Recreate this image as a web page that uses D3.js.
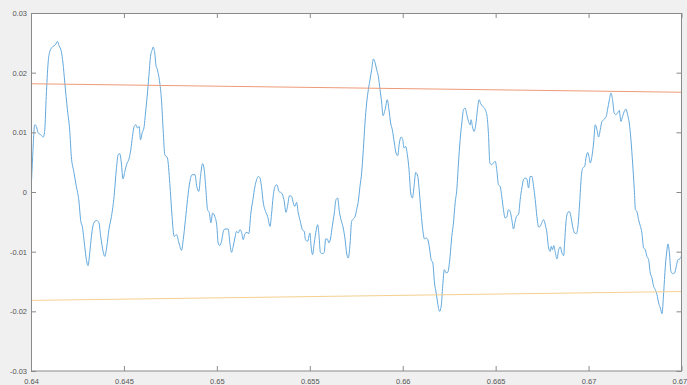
<!DOCTYPE html>
<html>
<head>
<meta charset="utf-8">
<script src="https://cdn.jsdelivr.net/npm/d3@7"></script>
<style>
  html, body { margin: 0; padding: 0; background: #f0f0f0; overflow: hidden; }
  svg { display: block; }
</style>
</head>
<body>
<svg id="chart" width="687" height="385"></svg>
<script>
// Sample times (s) of the measured signal
const timeS = [
  0.64000,0.64009,0.64020,0.64029,0.64038,0.64052,0.64066,0.64074,0.64082,0.64092,
  0.64101,0.64118,0.64131,0.64142,0.64151,0.64163,0.64172,0.64182,0.64196,0.64208,
  0.64217,0.64230,0.64244,0.64257,0.64268,0.64276,0.64289,0.64298,0.64307,0.64316,
  0.64325,0.64338,0.64352,0.64365,0.64375,0.64388,0.64397,0.64408,0.64419,0.64433,
  0.64447,0.64459,0.64469,0.64478,0.64486,0.64495,0.64505,0.64517,0.64526,0.64537,
  0.64546,0.64555,0.64564,0.64573,0.64582,0.64589,0.64598,0.64609,0.64616,0.64625,
  0.64634,0.64643,0.64652,0.64657,0.64666,0.64672,0.64680,0.64693,0.64702,0.64711,
  0.64720,0.64734,0.64747,0.64759,0.64770,0.64783,0.64796,0.64810,0.64819,0.64831,
  0.64842,0.64855,0.64867,0.64882,0.64892,0.64903,0.64912,0.64923,0.64932,0.64941,
  0.64950,0.64959,0.64968,0.64977,0.64989,0.65000,0.65007,0.65016,0.65025,0.65038,
  0.65049,0.65061,0.65070,0.65079,0.65088,0.65097,0.65106,0.65115,0.65124,0.65133,
  0.65142,0.65151,0.65162,0.65172,0.65183,0.65194,0.65205,0.65214,0.65223,0.65232,
  0.65240,0.65250,0.65262,0.65273,0.65286,0.65294,0.65303,0.65313,0.65323,0.65334,
  0.65348,0.65361,0.65372,0.65380,0.65391,0.65402,0.65411,0.65420,0.65429,0.65438,
  0.65449,0.65460,0.65470,0.65477,0.65488,0.65501,0.65507,0.65515,0.65524,0.65535,
  0.65542,0.65550,0.65557,0.65567,0.65578,0.65585,0.65594,0.65603,0.65612,0.65621,
  0.65632,0.65641,0.65650,0.65659,0.65668,0.65680,0.65690,0.65698,0.65707,0.65717,
  0.65725,0.65734,0.65744,0.65752,0.65761,0.65770,0.65779,0.65788,0.65797,0.65806,
  0.65815,0.65824,0.65833,0.65842,0.65851,0.65860,0.65869,0.65878,0.65887,0.65894,
  0.65905,0.65917,0.65926,0.65935,0.65944,0.65955,0.65964,0.65973,0.65982,0.65991,
  0.66000,0.66007,0.66016,0.66025,0.66034,0.66043,0.66052,0.66061,0.66070,0.66081,
  0.66090,0.66099,0.66108,0.66117,0.66126,0.66135,0.66144,0.66153,0.66162,0.66171,
  0.66180,0.66188,0.66198,0.66207,0.66215,0.66224,0.66234,0.66242,0.66255,0.66264,
  0.66273,0.66282,0.66291,0.66300,0.66309,0.66318,0.66327,0.66336,0.66345,0.66354,
  0.66363,0.66368,0.66375,0.66384,0.66393,0.66402,0.66411,0.66420,0.66431,0.66444,
  0.66454,0.66461,0.66469,0.66479,0.66488,0.66498,0.66506,0.66515,0.66524,0.66533,
  0.66542,0.66551,0.66560,0.66569,0.66578,0.66587,0.66596,0.66605,0.66614,0.66623,
  0.66632,0.66641,0.66650,0.66659,0.66668,0.66677,0.66686,0.66695,0.66704,0.66713,
  0.66722,0.66731,0.66740,0.66749,0.66758,0.66767,0.66776,0.66785,0.66794,0.66799,
  0.66806,0.66813,0.66821,0.66830,0.66839,0.66848,0.66856,0.66866,0.66871,0.66878,
  0.66887,0.66896,0.66905,0.66914,0.66925,0.66934,0.66943,0.66952,0.66961,0.66969,
  0.66979,0.66986,0.66995,0.67002,0.67009,0.67018,0.67027,0.67036,0.67045,0.67054,
  0.67063,0.67072,0.67081,0.67090,0.67096,0.67102,0.67112,0.67120,0.67129,0.67138,
  0.67147,0.67156,0.67165,0.67174,0.67183,0.67192,0.67201,0.67210,0.67219,0.67228,
  0.67237,0.67246,0.67252,0.67260,0.67269,0.67279,0.67287,0.67296,0.67305,0.67314,
  0.67323,0.67332,0.67341,0.67350,0.67359,0.67368,0.67377,0.67386,0.67395,0.67404,
  0.67413,0.67422,0.67427,0.67435,0.67443,0.67453,0.67463,0.67472,0.67481,0.67490,
  0.67499,0.67500
];

// Signal amplitude at each sample
const signal = [
  -0.00020,0.00596,0.01127,0.01099,0.00993,0.00960,0.00921,0.01044,0.01601,0.02161,
  0.02355,0.02439,0.02467,0.02523,0.02451,0.02355,0.02161,0.01826,0.01379,0.01044,
  0.00596,0.00345,0.00094,-0.00129,-0.00492,-0.00576,-0.00911,-0.01134,-0.01235,-0.01022,
  -0.00744,-0.00519,-0.00476,-0.00509,-0.00744,-0.00995,-0.01079,-0.00911,-0.00632,-0.00409,
  -0.00074,0.00374,0.00625,0.00642,0.00486,0.00218,0.00345,0.00486,0.00541,0.00709,
  0.00931,0.01099,0.01127,0.01072,0.01099,0.00876,0.00988,0.01099,0.01323,0.01601,
  0.01936,0.02271,0.02384,0.02429,0.02328,0.02132,0.02049,0.01826,0.01546,0.01044,
  0.00625,0.00570,0.00139,-0.00409,-0.00744,-0.00715,-0.00854,-0.00978,-0.00799,-0.00464,
  -0.00129,0.00178,0.00290,0.00290,0.00094,0.00010,0.00261,0.00474,0.00374,0.00039,
  -0.00296,-0.00342,-0.00519,-0.00352,-0.00409,-0.00576,-0.00854,-0.00899,-0.00827,-0.00631,
  -0.00620,-0.00620,-0.00854,-0.01012,-0.00911,-0.00771,-0.00660,-0.00687,-0.00632,-0.00677,
  -0.00799,-0.00698,-0.00677,-0.00698,-0.00352,-0.00129,0.00094,0.00206,0.00261,0.00235,
  0.00094,-0.00184,-0.00325,-0.00409,-0.00576,-0.00380,-0.00074,0.00094,0.00122,0.00010,
  -0.00017,-0.00129,-0.00342,-0.00241,-0.00062,-0.00074,-0.00184,-0.00241,-0.00174,-0.00352,
  -0.00492,-0.00632,-0.00660,-0.00799,-0.00827,-0.00687,-0.00911,-0.01050,-0.00854,-0.00632,
  -0.00548,-0.00744,-0.01012,-0.01034,-0.01012,-0.00787,-0.00787,-0.00854,-0.00771,-0.00576,
  -0.00352,-0.00129,-0.00101,-0.00325,-0.00464,-0.00603,-0.00799,-0.01022,-0.01106,-0.00854,
  -0.00492,-0.00452,-0.00409,-0.00296,-0.00157,0.00094,0.00318,0.00709,0.01156,0.01491,
  0.01714,0.01881,0.02049,0.02228,0.02171,0.02049,0.01936,0.01714,0.01491,0.01278,
  0.01379,0.01546,0.01379,0.01156,0.01044,0.00821,0.00653,0.00608,0.00821,0.00921,
  0.00876,0.00737,0.00764,0.00625,0.00374,-0.00017,-0.00101,0.00094,0.00328,0.00261,
  -0.00017,-0.00352,-0.00632,-0.00787,-0.00771,-0.00799,-0.00938,-0.01134,-0.01189,-0.01524,
  -0.01692,-0.01859,-0.02000,-0.01916,-0.01581,-0.01302,-0.01357,-0.01347,-0.01079,-0.00744,
  -0.00519,-0.00184,0.00039,0.00486,0.00876,0.01156,0.01379,0.01407,0.01295,0.01183,
  0.01127,0.01211,0.01099,0.01015,0.01127,0.01379,0.01546,0.01479,0.01434,0.01379,
  0.01266,0.00988,0.00486,0.00457,0.00486,0.00513,0.00374,0.00122,0.00094,-0.00074,
  -0.00296,-0.00436,-0.00419,-0.00296,-0.00325,-0.00464,-0.00620,-0.00492,-0.00397,-0.00380,
  -0.00129,0.00067,0.00206,0.00235,0.00218,0.00067,0.00261,0.00261,0.00094,-0.00129,
  -0.00409,-0.00586,-0.00576,-0.00509,-0.00464,-0.00548,-0.00687,-0.00938,-0.00995,-0.00911,
  -0.00967,-0.00899,-0.01012,-0.01122,-0.00967,-0.00921,-0.01012,-0.01067,-0.00854,-0.00519,
  -0.00352,-0.00325,-0.00409,-0.00576,-0.00687,-0.00698,-0.00576,-0.00184,0.00261,0.00402,
  0.00429,0.00570,0.00663,0.00596,0.00486,0.00596,0.00821,0.01127,0.01044,0.00921,
  0.01044,0.01183,0.01211,0.01240,0.01278,0.01379,0.01546,0.01658,0.01546,0.01323,
  0.01295,0.01323,0.01367,0.01183,0.01266,0.01350,0.01390,0.01295,0.01156,0.00876,
  0.00486,0.00039,-0.00296,-0.00325,-0.00464,-0.00576,-0.00687,-0.00938,-0.00967,-0.01079,
  -0.01134,-0.01357,-0.01441,-0.01581,-0.01637,-0.01720,-0.01859,-0.01943,-0.02039,-0.01692,
  -0.01246,-0.00967,-0.00871,-0.01022,-0.01330,-0.01369,-0.01357,-0.01246,-0.01134,-0.01122,
  -0.01079,-0.01050
];

// Upper and lower threshold lines (end points)
const limitTime = [0.640, 0.675];
const upperLimit = [0.01814, 0.01672];
const lowerLimit = [-0.01817, -0.01668];

// Axis ticks
const xTickValues = [0.64, 0.645, 0.65, 0.655, 0.66, 0.665, 0.67, 0.675];
const xTickLabels = ["0.64", "0.645", "0.65", "0.655", "0.66", "0.665", "0.67", "0.675"];
const yTickValues = [-0.03, -0.02, -0.01, 0, 0.01, 0.02, 0.03];
const yTickLabels = ["-0.03", "-0.02", "-0.01", "0", "0.01", "0.02", "0.03"];

const svg = d3.select("#chart");
const W = 687, H = 385;
const margin = { left: 31, right: 5.5, top: 13, bottom: 14 };
const plotW = W - margin.left - margin.right;
const plotH = H - margin.top - margin.bottom;

const x = d3.scaleLinear().domain([0.64, 0.675]).range([0, plotW]);
const y = d3.scaleLinear().domain([-0.03, 0.03]).range([plotH, 0]);

svg.append("rect").attr("width", W).attr("height", H).attr("fill", "#f0f0f0");

const g = svg.append("g").attr("transform", `translate(${margin.left},${margin.top})`);

g.append("rect")
  .attr("width", plotW).attr("height", plotH)
  .attr("fill", "#ffffff");

g.append("clipPath").attr("id", "plotClip")
  .append("rect").attr("width", plotW).attr("height", plotH);

const plot = g.append("g").attr("clip-path", "url(#plotClip)");

const line = d3.line()
  .x(d => x(d[0]))
  .y(d => y(d[1]))
  .curve(d3.curveMonotoneX);

const sigData = timeS.map((t, i) => [t, signal[i]]);

plot.append("path")
  .datum(sigData)
  .attr("fill", "none")
  .attr("stroke", "#62a8dc")
  .attr("stroke-width", 1)
  .attr("stroke-linejoin", "round")
  .attr("d", line);

plot.append("path")
  .datum(limitTime.map((t, i) => [t, upperLimit[i]]))
  .attr("fill", "none")
  .attr("stroke", "#ee9a78")
  .attr("stroke-width", 1)
  .attr("d", d3.line().x(d => x(d[0])).y(d => y(d[1])));

plot.append("path")
  .datum(limitTime.map((t, i) => [t, lowerLimit[i]]))
  .attr("fill", "none")
  .attr("stroke", "#f4d08e")
  .attr("stroke-width", 1)
  .attr("d", d3.line().x(d => x(d[0])).y(d => y(d[1])));

// Axes: ticks point inwards on all four sides
const axisColor = "#8a8a8a";
const labelColor = "#555555";
const fontFamily = "'Liberation Sans', Arial, Helvetica, sans-serif";

function styleAxis(sel, showText) {
  sel.select(".domain").remove();
  sel.selectAll(".tick line").attr("stroke", axisColor);
  sel.selectAll(".tick text")
    .attr("fill", labelColor)
    .attr("font-family", fontFamily)
    .attr("font-size", "7.5px");
  if (!showText) sel.selectAll(".tick text").remove();
}

const xBottom = g.append("g").attr("transform", `translate(0,${plotH})`)
  .call(d3.axisBottom(x).tickValues(xTickValues)
    .tickFormat((d, i) => xTickLabels[i]).tickSize(-5).tickPadding(8));
styleAxis(xBottom, true);

const xTop = g.append("g")
  .call(d3.axisTop(x).tickValues(xTickValues).tickSize(-5));
styleAxis(xTop, false);

const yLeft = g.append("g")
  .call(d3.axisLeft(y).tickValues(yTickValues)
    .tickFormat((d, i) => yTickLabels[i]).tickSize(-5).tickPadding(4));
styleAxis(yLeft, true);

const yRight = g.append("g").attr("transform", `translate(${plotW},0)`)
  .call(d3.axisRight(y).tickValues(yTickValues).tickSize(-5));
styleAxis(yRight, false);

// Axes box
g.append("rect")
  .attr("x", 0.5).attr("y", 0.5)
  .attr("width", plotW - 0.5).attr("height", plotH - 0.5)
  .attr("fill", "none")
  .attr("stroke", axisColor)
  .attr("stroke-width", 1);
</script>
</body>
</html>
